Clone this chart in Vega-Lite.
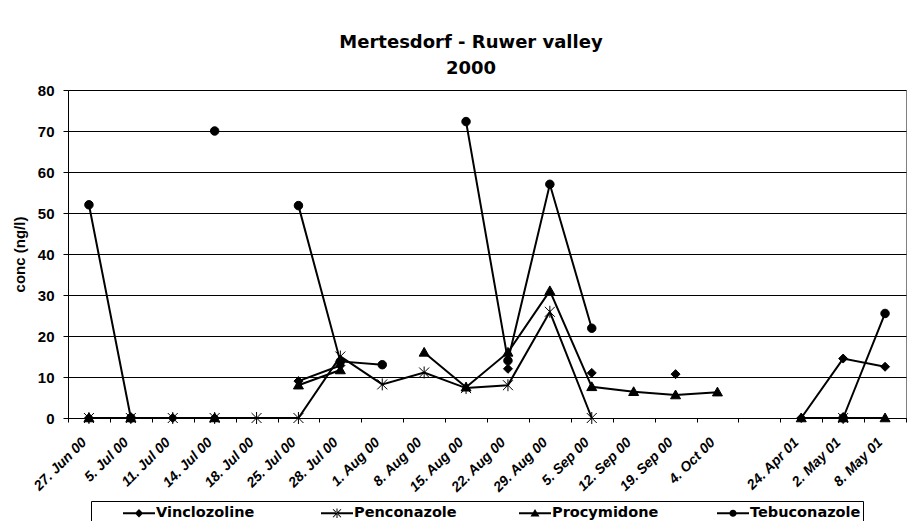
{
  "$schema": "https://vega.github.io/schema/vega-lite/v6.json",
  "width": 838,
  "height": 328,
  "autosize": {"type": "none"},
  "padding": {"left": 68, "top": 90, "right": 18, "bottom": 103},
  "background": "white",
  "config": {
    "view": {"stroke": "#808080", "strokeWidth": 1},
    "axis": {"labelColor": "black", "titleColor": "black", "domainColor": "black", "tickColor": "black"}
  },
  "title": {
    "text": ["Mertesdorf - Ruwer valley", "2000"],
    "font": "DejaVu Sans",
    "fontSize": 18,
    "fontWeight": "bold",
    "color": "black",
    "anchor": "middle",
    "frame": "group",
    "dx": -16,
    "offset": -13,
    "baseline": "bottom",
    "lineHeight": 26
  },
  "data": {
    "values": [
      {"date": "27. Jun 00", "substance": "Vinclozoline", "conc": 0},
      {"date": "5. Jul 00", "substance": "Vinclozoline", "conc": 0},
      {"date": "11. Jul 00", "substance": "Vinclozoline", "conc": 0},
      {"date": "14. Jul 00", "substance": "Vinclozoline", "conc": 0},
      {"date": "18. Jul 00", "substance": "Vinclozoline", "conc": null},
      {"date": "25. Jul 00", "substance": "Vinclozoline", "conc": 9},
      {"date": "28. Jul 00", "substance": "Vinclozoline", "conc": 12.8},
      {"date": "1. Aug 00", "substance": "Vinclozoline", "conc": null},
      {"date": "8. Aug 00", "substance": "Vinclozoline", "conc": null},
      {"date": "15. Aug 00", "substance": "Vinclozoline", "conc": null},
      {"date": "22. Aug 00", "substance": "Vinclozoline", "conc": 12},
      {"date": "29. Aug 00", "substance": "Vinclozoline", "conc": null},
      {"date": "5. Sep 00", "substance": "Vinclozoline", "conc": 11},
      {"date": "12. Sep 00", "substance": "Vinclozoline", "conc": null},
      {"date": "19. Sep 00", "substance": "Vinclozoline", "conc": 10.7},
      {"date": "4. Oct 00", "substance": "Vinclozoline", "conc": null},
      {"date": " ", "substance": "Vinclozoline", "conc": null},
      {"date": "24. Apr 01", "substance": "Vinclozoline", "conc": 0},
      {"date": "2. May 01", "substance": "Vinclozoline", "conc": 14.5},
      {"date": "8. May 01", "substance": "Vinclozoline", "conc": 12.5},

      {"date": "27. Jun 00", "substance": "Penconazole", "conc": 0},
      {"date": "5. Jul 00", "substance": "Penconazole", "conc": 0},
      {"date": "11. Jul 00", "substance": "Penconazole", "conc": 0},
      {"date": "14. Jul 00", "substance": "Penconazole", "conc": 0},
      {"date": "18. Jul 00", "substance": "Penconazole", "conc": 0},
      {"date": "25. Jul 00", "substance": "Penconazole", "conc": 0},
      {"date": "28. Jul 00", "substance": "Penconazole", "conc": 15},
      {"date": "1. Aug 00", "substance": "Penconazole", "conc": 8.2},
      {"date": "8. Aug 00", "substance": "Penconazole", "conc": 11.1},
      {"date": "15. Aug 00", "substance": "Penconazole", "conc": 7.3},
      {"date": "22. Aug 00", "substance": "Penconazole", "conc": 8},
      {"date": "29. Aug 00", "substance": "Penconazole", "conc": 25.9},
      {"date": "5. Sep 00", "substance": "Penconazole", "conc": 0},
      {"date": "12. Sep 00", "substance": "Penconazole", "conc": null},
      {"date": "19. Sep 00", "substance": "Penconazole", "conc": null},
      {"date": "4. Oct 00", "substance": "Penconazole", "conc": null},
      {"date": " ", "substance": "Penconazole", "conc": null},
      {"date": "24. Apr 01", "substance": "Penconazole", "conc": null},
      {"date": "2. May 01", "substance": "Penconazole", "conc": 0},
      {"date": "8. May 01", "substance": "Penconazole", "conc": null},

      {"date": "27. Jun 00", "substance": "Procymidone", "conc": 0},
      {"date": "5. Jul 00", "substance": "Procymidone", "conc": 0},
      {"date": "11. Jul 00", "substance": "Procymidone", "conc": null},
      {"date": "14. Jul 00", "substance": "Procymidone", "conc": 0},
      {"date": "18. Jul 00", "substance": "Procymidone", "conc": null},
      {"date": "25. Jul 00", "substance": "Procymidone", "conc": 8},
      {"date": "28. Jul 00", "substance": "Procymidone", "conc": 11.7},
      {"date": "1. Aug 00", "substance": "Procymidone", "conc": null},
      {"date": "8. Aug 00", "substance": "Procymidone", "conc": 16},
      {"date": "15. Aug 00", "substance": "Procymidone", "conc": 7.5},
      {"date": "22. Aug 00", "substance": "Procymidone", "conc": 16},
      {"date": "29. Aug 00", "substance": "Procymidone", "conc": 31},
      {"date": "5. Sep 00", "substance": "Procymidone", "conc": 7.6},
      {"date": "12. Sep 00", "substance": "Procymidone", "conc": 6.4},
      {"date": "19. Sep 00", "substance": "Procymidone", "conc": 5.6},
      {"date": "4. Oct 00", "substance": "Procymidone", "conc": 6.3},
      {"date": " ", "substance": "Procymidone", "conc": null},
      {"date": "24. Apr 01", "substance": "Procymidone", "conc": 0},
      {"date": "2. May 01", "substance": "Procymidone", "conc": 0},
      {"date": "8. May 01", "substance": "Procymidone", "conc": 0},

      {"date": "27. Jun 00", "substance": "Tebuconazole", "conc": 52},
      {"date": "5. Jul 00", "substance": "Tebuconazole", "conc": 0},
      {"date": "11. Jul 00", "substance": "Tebuconazole", "conc": null},
      {"date": "14. Jul 00", "substance": "Tebuconazole", "conc": 70},
      {"date": "18. Jul 00", "substance": "Tebuconazole", "conc": null},
      {"date": "25. Jul 00", "substance": "Tebuconazole", "conc": 51.8},
      {"date": "28. Jul 00", "substance": "Tebuconazole", "conc": 13.8},
      {"date": "1. Aug 00", "substance": "Tebuconazole", "conc": 13},
      {"date": "8. Aug 00", "substance": "Tebuconazole", "conc": null},
      {"date": "15. Aug 00", "substance": "Tebuconazole", "conc": 72.3},
      {"date": "22. Aug 00", "substance": "Tebuconazole", "conc": 14},
      {"date": "29. Aug 00", "substance": "Tebuconazole", "conc": 57},
      {"date": "5. Sep 00", "substance": "Tebuconazole", "conc": 21.9},
      {"date": "12. Sep 00", "substance": "Tebuconazole", "conc": null},
      {"date": "19. Sep 00", "substance": "Tebuconazole", "conc": null},
      {"date": "4. Oct 00", "substance": "Tebuconazole", "conc": null},
      {"date": " ", "substance": "Tebuconazole", "conc": null},
      {"date": "24. Apr 01", "substance": "Tebuconazole", "conc": null},
      {"date": "2. May 01", "substance": "Tebuconazole", "conc": 0},
      {"date": "8. May 01", "substance": "Tebuconazole", "conc": 25.5}
    ]
  },
  "encoding": {
    "x": {
      "field": "date",
      "type": "ordinal",
      "bandPosition": 0.5,
      "sort": ["27. Jun 00", "5. Jul 00", "11. Jul 00", "14. Jul 00", "18. Jul 00", "25. Jul 00", "28. Jul 00", "1. Aug 00", "8. Aug 00", "15. Aug 00", "22. Aug 00", "29. Aug 00", "5. Sep 00", "12. Sep 00", "19. Sep 00", "4. Oct 00", " ", "24. Apr 01", "2. May 01", "8. May 01"],
      "scale": {
        "type": "band",
        "domain": ["27. Jun 00", "5. Jul 00", "11. Jul 00", "14. Jul 00", "18. Jul 00", "25. Jul 00", "28. Jul 00", "1. Aug 00", "8. Aug 00", "15. Aug 00", "22. Aug 00", "29. Aug 00", "5. Sep 00", "12. Sep 00", "19. Sep 00", "4. Oct 00", " ", "24. Apr 01", "2. May 01", "8. May 01"],
        "paddingInner": 0,
        "paddingOuter": 0
      },
      "axis": {
        "title": null,
        "grid": false,
        "tickBand": "extent",
        "tickSize": 4,
        "labelAngle": -45,
        "labelAlign": "right",
        "labelBaseline": "middle",
        "labelPadding": 18,
        "labelOffset": -5,
        "labelFont": "Liberation Sans",
        "labelFontSize": 14,
        "labelFontWeight": "bold",
        "labelFontStyle": "italic",
        "labelOverlap": false,
        "domainColor": "black"
      }
    },
    "y": {
      "field": "conc",
      "type": "quantitative",
      "scale": {"domain": [0, 80], "nice": false},
      "axis": {
        "title": "conc (ng/l)",
        "titleFont": "Liberation Sans",
        "titleFontSize": 15,
        "titleFontWeight": "bold",
        "titlePadding": 10,
        "values": [0, 10, 20, 30, 40, 50, 60, 70, 80],
        "grid": true,
        "gridColor": "black",
        "gridWidth": 1,
        "tickSize": 5,
        "labelPadding": 9,
        "labelFont": "Liberation Sans",
        "labelFontSize": 15,
        "labelFontWeight": "bold"
      }
    }
  },
  "resolve": {"scale": {"shape": "independent"}, "legend": {"shape": "independent"}},
  "layer": [
    {
      "mark": {"type": "line", "color": "black", "strokeWidth": 2, "invalid": "break-paths-filter-domains"},
      "encoding": {
        "detail": {"field": "substance", "type": "nominal"}
      }
    },
    {
      "mark": {"type": "point", "filled": true, "fill": "black", "stroke": "black", "strokeWidth": 1, "opacity": 1, "size": 100},
      "encoding": {
        "shape": {
          "field": "substance",
          "type": "nominal",
          "scale": {
            "domain": ["Vinclozoline", "Penconazole", "Procymidone", "Tebuconazole"],
            "range": [
              "M0,-0.9L0.9,0L0,0.9L-0.9,0Z",
              "M-1,-1L1,1M-1,1L1,-1M0,-1.2L0,1.2",
              "M0,-1L1,0.75L-1,0.75Z",
              "M0.85,0A0.85,0.85,0,1,1,-0.85,0A0.85,0.85,0,1,1,0.85,0Z"
            ]
          },
          "legend": null
        }
      }
    },
    {
      "transform": [{"filter": "datum.conc > 1000"}],
      "mark": {"type": "point", "filled": true, "fill": "black", "size": 400},
      "encoding": {
        "shape": {
          "field": "substance",
          "type": "nominal",
          "scale": {
            "domain": ["Vinclozoline", "Penconazole", "Procymidone", "Tebuconazole"],
            "range": [
              "M-1.6,-0.09H1.6V0.09H-1.6ZM0,-0.42L0.42,0L0,0.42L-0.42,0Z",
              "M-1.6,-0.09H1.6V0.09H-1.6ZM-0.435,-0.365L0.365,0.435L0.435,0.365L-0.365,-0.435ZM-0.435,0.365L0.365,-0.435L0.435,-0.365L-0.365,0.435ZM-0.05,-0.48H0.05V0.48H-0.05Z",
              "M-1.6,-0.09H1.6V0.09H-1.6ZM0,-0.43L0.45,0.33L-0.45,0.33Z",
              "M-1.6,-0.09H1.6V0.09H-1.6ZM0.36,0A0.36,0.36,0,1,1,-0.36,0A0.36,0.36,0,1,1,0.36,0Z"
            ]
          },
          "legend": {
            "orient": "none",
            "legendX": 23,
            "legendY": 411,
            "direction": "horizontal",
            "columns": 4,
            "title": " ",
            "titleOrient": "left",
            "titlePadding": 36,
            "gridAlign": "all",
            "columnPadding": 54,
            "symbolSize": 400,
            "symbolOpacity": 1,
            "symbolFillColor": "black",
            "symbolStrokeColor": "black",
            "symbolStrokeWidth": 0,
            "labelFont": "DejaVu Sans",
            "labelFontSize": 14.5,
            "labelFontWeight": "bold",
            "labelColor": "black",
            "labelOffset": 7,
            "labelLimit": 0,
            "padding": 2,
            "strokeColor": "black",
            "fillColor": "white"
          }
        }
      }
    }
  ]
}
